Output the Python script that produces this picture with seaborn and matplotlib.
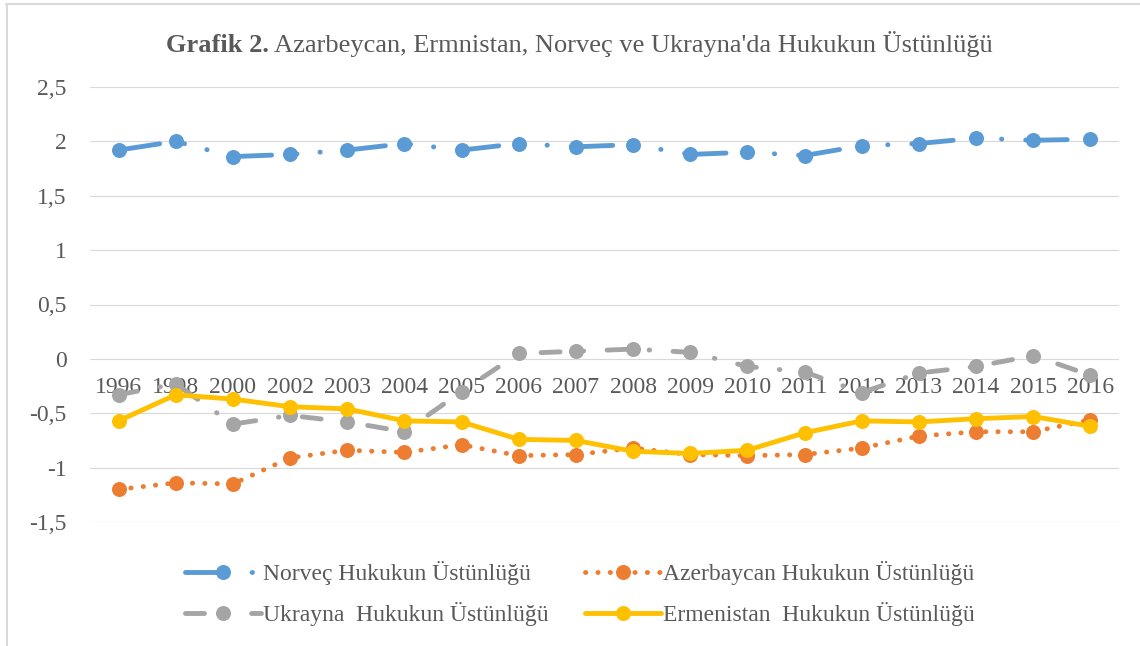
import numpy as np
import pandas as pd
import matplotlib
matplotlib.use('Agg')
import matplotlib.pyplot as plt
from matplotlib.lines import Line2D
from matplotlib.ticker import FuncFormatter
import seaborn as sns

# Veriler (grafikten okunmuş yaklaşık değerler)
years = ['1996', '1998', '2000', '2002', '2003', '2004', '2005', '2006', '2007',
         '2008', '2009', '2010', '2011', '2012', '2013', '2014', '2015', '2016']
norvec = [1.92, 2.00, 1.86, 1.88, 1.92, 1.98, 1.92, 1.98, 1.95,
          1.97, 1.88, 1.90, 1.87, 1.96, 1.98, 2.03, 2.01, 2.02]
azerbaycan = [-1.20, -1.14, -1.15, -0.91, -0.84, -0.86, -0.79, -0.89, -0.88,
              -0.82, -0.88, -0.89, -0.88, -0.82, -0.71, -0.67, -0.67, -0.56]
ukrayna = [-0.33, -0.23, -0.60, -0.52, -0.58, -0.67, -0.30, 0.05, 0.07,
           0.09, 0.06, -0.07, -0.12, -0.31, -0.13, -0.07, 0.03, -0.15]
ermenistan = [-0.57, -0.33, -0.37, -0.44, -0.46, -0.57, -0.58, -0.74, -0.75,
              -0.85, -0.87, -0.84, -0.68, -0.57, -0.58, -0.55, -0.53, -0.62]

labels = ['Norveç Hukukun Üstünlüğü', 'Azerbaycan Hukukun Üstünlüğü',
          'Ukrayna  Hukukun Üstünlüğü', 'Ermenistan  Hukukun Üstünlüğü']
colors = ['#5B9BD5', '#ED7D31', '#A5A5A5', '#FFC000']
# Excel çizgi desenleri (pt): uzun çizgi-nokta-nokta, yuvarlak nokta, çizgi-nokta, düz
dash_styles = [(0, (29.9, 18.1, 0.2, 16.6, 0.2, 17.2)),
               (0, (0.2, 8.7)),
               (0, (13.7, 16.6, 0.36, 16.9)),
               None]

sns.set_style('white')
plt.rcParams['font.family'] = ['Liberation Serif', 'DejaVu Serif']
plt.rcParams['lines.scale_dashes'] = False
text_col = '#595959'

W, H = 1140, 646
fig = plt.figure(figsize=(W / 100, H / 100), dpi=100)
ax = fig.add_axes([90 / W, 1 - 522 / H, 1029 / W, 435 / H])

x = np.arange(len(years))
series = [norvec, azerbaycan, ukrayna, ermenistan]
for vals, col, ds in zip(series, colors, dash_styles):
    sns.lineplot(x=x, y=vals, ax=ax, color=col, linewidth=3.5, marker='o',
                 markersize=10.8, markeredgecolor=col, markerfacecolor=col,
                 markeredgewidth=0)
    ln = ax.lines[-1]
    ln.set_solid_capstyle('round')
    ln.set_dash_capstyle('round')
    if ds is not None:
        ln.set_linestyle(ds)

ax.set_xlim(-0.5, len(years) - 0.5)
ax.set_ylim(-1.5, 2.5)
ax.set_yticks(np.arange(-1.5, 2.51, 0.5))
ax.yaxis.set_major_formatter(FuncFormatter(lambda v, p: f'{v:g}'.replace('.', ',')))
ax.grid(axis='y', color='#D9D9D9', linewidth=0.8)
ax.set_axisbelow(True)
for s in ['top', 'right', 'left']:
    ax.spines[s].set_visible(False)
ax.spines['bottom'].set_position(('data', 0))
ax.spines['bottom'].set_visible(False)
ax.set_xticks(x)
ax.set_xticklabels(years)
ax.tick_params(axis='x', length=0, pad=13, labelsize=17, labelcolor=text_col)
ax.tick_params(axis='y', length=0, pad=17, labelsize=17, labelcolor=text_col)
ax.set_xlabel('')
ax.set_ylabel('')

# Başlık (kalın + normal)
t1 = fig.text(166 / W, 1 - 57 / H, 'Grafik 2.', fontsize=19, fontweight='bold',
              color=text_col, ha='left', va='bottom')
fig.canvas.draw()
ax.annotate(" Azarbeycan, Ermnistan, Norveç ve Ukrayna'da Hukukun Üstünlüğü",
            xy=(1, 0), xycoords=t1, fontsize=19, color=text_col,
            ha='left', va='bottom', annotation_clip=False)

# Lejant (satır sırası: Norveç, Azerbaycan / Ukrayna, Ermenistan)
lines = ax.lines[:4]
order = [0, 2, 1, 3]
fig.legend(handles=[lines[i] for i in order], labels=[labels[i] for i in order],
           ncol=2, frameon=False,
           loc='upper left', bbox_to_anchor=(185 / W, 1 - 561 / H),
           fontsize=17, labelcolor=text_col, handlelength=3.2,
           handletextpad=0.1, columnspacing=1.55, labelspacing=0.72,
           borderpad=0, borderaxespad=0)

# Grafik alanı kenarlığı
fig.add_artist(Line2D([6 / W, 1], [1 - 4 / H, 1 - 4 / H], color='#D9D9D9', lw=1.5))
fig.add_artist(Line2D([7 / W, 7 / W], [0, 1 - 4 / H], color='#D9D9D9', lw=1.5))

fig.savefig('out.png', dpi=100)
